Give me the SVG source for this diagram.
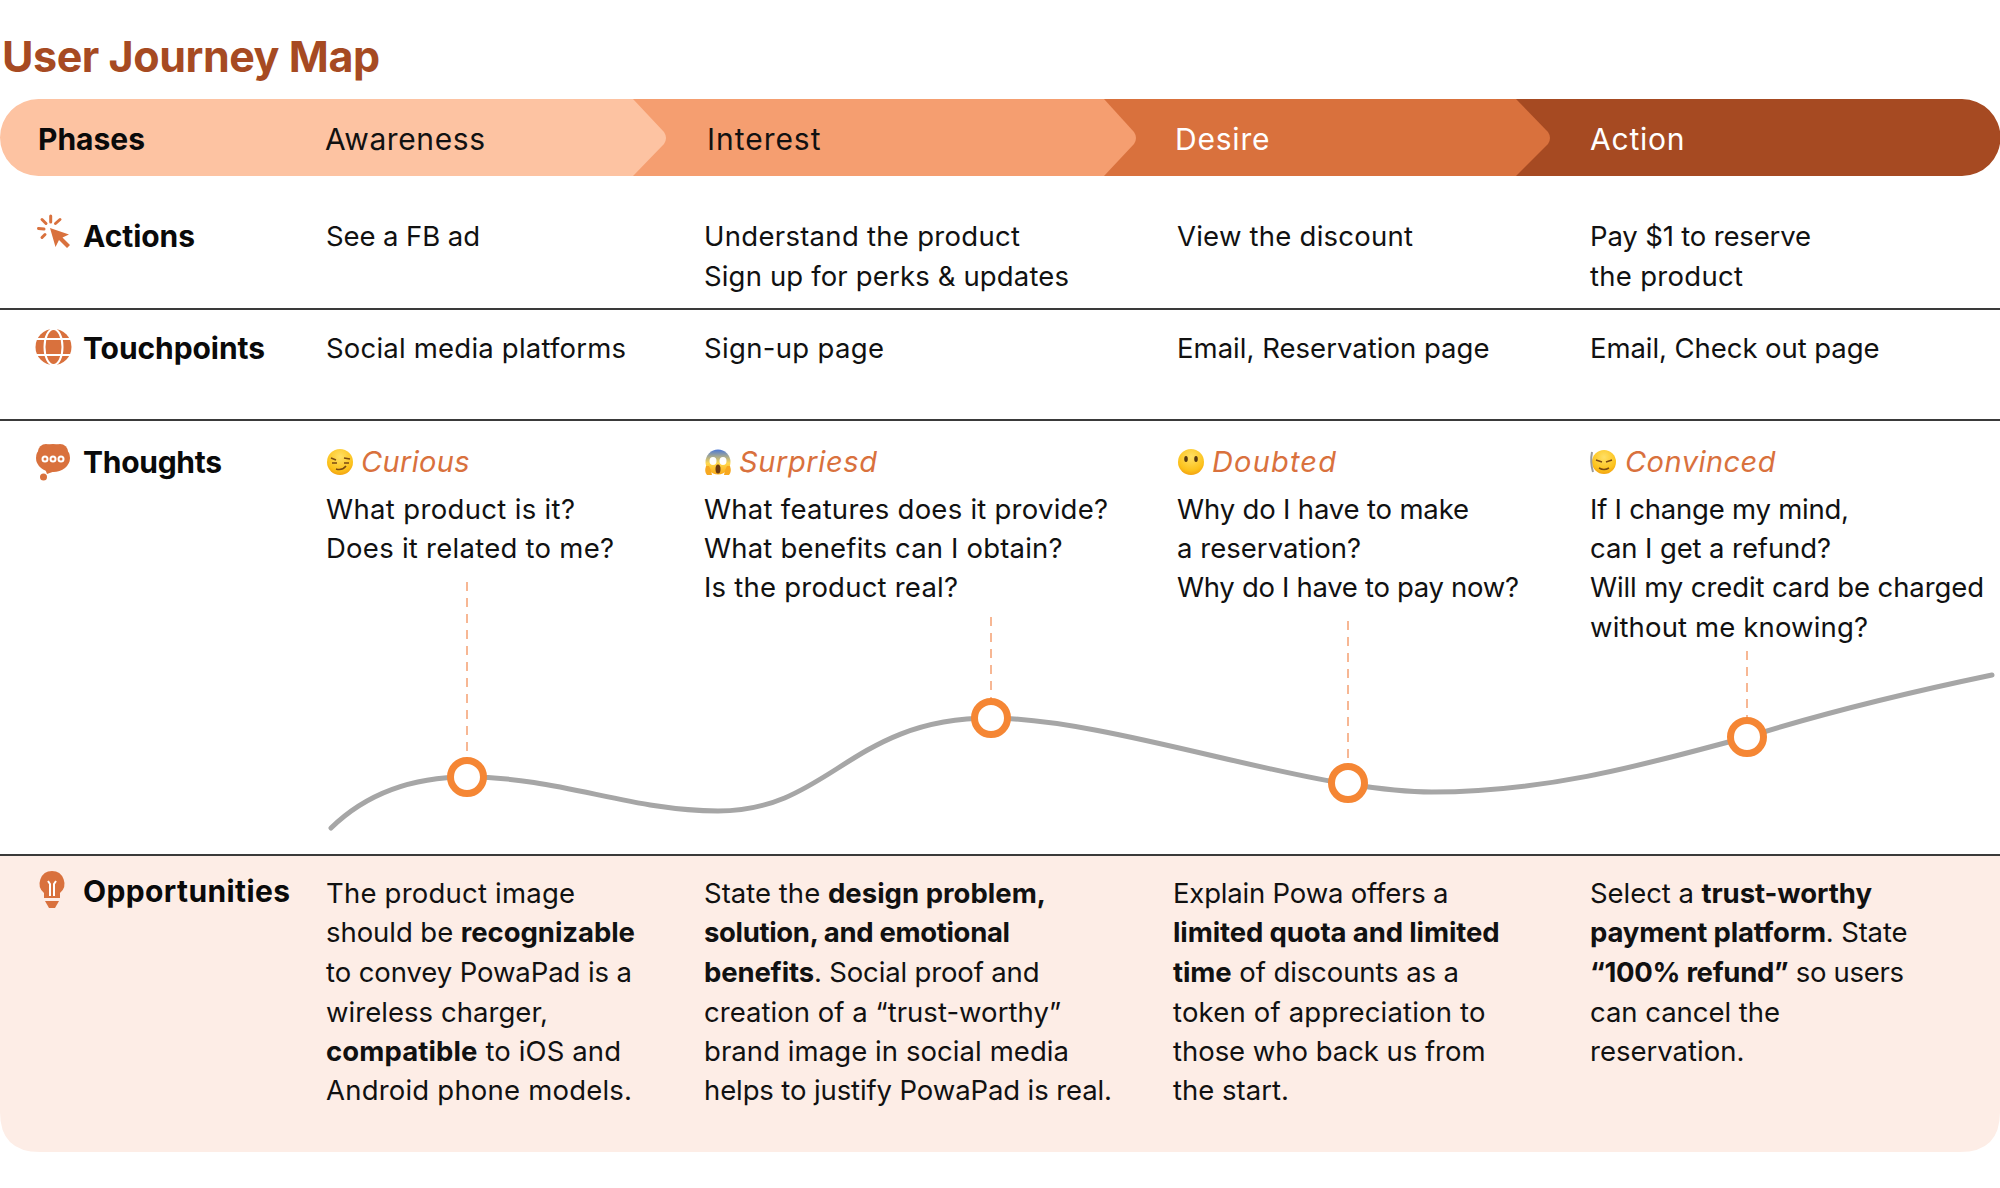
<svg xmlns="http://www.w3.org/2000/svg" width="2000" height="1188" viewBox="0 0 2000 1188">
<style>
text{font-family:"Inter","Liberation Sans",sans-serif;font-size:27.5px;fill:#111}
.h{font-weight:700;font-size:30px;fill:#0a0a0a}
.title{font-weight:700;font-size:43px;fill:#a64a22}
.ph{font-size:30px}
.w{fill:#fff}
.em{font-style:italic;fill:#d9713d;font-size:29px}
.b{font-weight:700}
.rule{stroke:#3a3a3a;stroke-width:2}
.dash{stroke:#f5a67a;stroke-width:1.6;stroke-dasharray:9 7;fill:none}
.pt{fill:#fff;stroke:#f58634;stroke-width:7}
.ic{fill:#d9713d}
.icl{stroke:#d9713d;stroke-width:3;stroke-linecap:round;fill:none}
</style>
<defs>
<radialGradient id="y" cx="50%" cy="30%" r="75%"><stop offset="0" stop-color="#ffe066"/><stop offset=".7" stop-color="#fcc21b"/><stop offset="1" stop-color="#f09a0f"/></radialGradient>
<linearGradient id="s" x1="0" y1="0" x2="0" y2="1"><stop offset="0" stop-color="#4a78d8"/><stop offset=".55" stop-color="#ffd84d"/><stop offset="1" stop-color="#f9a916"/></linearGradient>
</defs>
<rect width="2000" height="1188" fill="#fff"/>
<text class="title" x="2" y="72" textLength="378">User Journey Map</text>

<g id="band">
<path d="M1500 99H1962a38.500 38.500 0 0 1 0 77H1500Z" fill="#a64a22"/>
<path d="M1080 99H1516L1548 132Q1552 138 1548 144L1516 176H1080Z" fill="#d9713d"/>
<path d="M600 99H1104L1134 132Q1138 138 1134 144L1104 176H600Z" fill="#f59e70"/>
<path d="M38.500 99H633L664 132Q668 138 664 144L633 176H38.500a38.500 38.500 0 0 1 0-77Z" fill="#fdc3a2"/>
</g>
<g id="phases">
<text class="h" x="38" y="150" textLength="107">Phases</text>
<text class="ph" x="325" y="150" textLength="160">Awareness</text>
<text class="ph" x="707" y="150" textLength="113.500">Interest</text>
<text class="ph w" x="1175" y="150" textLength="94.500">Desire</text>
<text class="ph w" x="1590" y="150" textLength="94.500">Action</text>
</g>

<rect id="opp-bg" x="0" y="855" width="2000" height="297" fill="#fdede6"/>
<path d="M0 1112V1152H40Q0 1152 0 1112ZM2000 1112V1152H1960Q2000 1152 2000 1112Z" fill="#fff"/>
<line class="rule" x1="0" y1="309" x2="2000" y2="309"/>
<line class="rule" x1="0" y1="420" x2="2000" y2="420"/>
<line class="rule" x1="0" y1="855" x2="2000" y2="855"/>

<g id="actions">
<path class="icl" d="M50.700 216V222M42 219.500L46 223.500M60 219.500L55.500 223.500M38.500 228.500L44 229M42 237.500L45 234.500"/>
<path class="ic" d="M50 228L69 234.500L62.500 237.500L70 245L67 248L59 240L55.500 247Z"/>
<text class="h" x="83" y="247" textLength="112">Actions</text>
<text x="326" y="246" textLength="154">See a FB ad</text>
<text x="704" y="246" textLength="316">Understand the product</text>
<text x="704" y="286" textLength="365">Sign up for perks &amp; updates</text>
<text x="1177" y="246" textLength="236">View the discount</text>
<text x="1590" y="246" textLength="221">Pay $1 to reserve</text>
<text x="1590" y="286" textLength="153">the product</text>
</g>

<g id="touchpoints">
<circle class="ic" cx="53.500" cy="347" r="18"/>
<g fill="none" stroke="#fff" stroke-width="2"><ellipse cx="53.500" cy="347" rx="9" ry="18"/><path d="M35 339H72M35 355H72"/></g>
<text class="h" x="83" y="359" textLength="182">Touchpoints</text>
<text x="326" y="358" textLength="300">Social media platforms</text>
<text x="704" y="358" textLength="180">Sign-up page</text>
<text x="1177" y="358" textLength="312.500">Email, Reservation page</text>
<text x="1590" y="358" textLength="289.500">Email, Check out page</text>
</g>

<g id="thoughts">
<ellipse class="ic" cx="53" cy="458" rx="17" ry="14"/><circle class="ic" cx="46" cy="452" r="8"/><circle class="ic" cx="60" cy="452" r="8"/><path class="ic" d="M44 466L58 470L47 474Z"/>
<circle class="ic" cx="43.500" cy="477" r="3.500"/>
<g fill="#d9713d" stroke="#fff" stroke-width="2"><circle cx="45" cy="459" r="2.500"/><circle cx="53" cy="459" r="2.500"/><circle cx="61" cy="459" r="2.500"/></g>
<text class="h" x="83" y="473" textLength="139">Thoughts</text>

<g id="emoji-curious"><circle cx="340" cy="462" r="13" fill="url(#y)"/><path d="M331 458l5 2M344 458l6 1M332 463h5M344 463h5M336 469q6 2 10-3" fill="none" stroke="#7a4a12" stroke-width="1.500"/></g>
<text class="em" x="361" y="472" textLength="108.500">Curious</text>
<text x="326" y="519" textLength="249">What product is it?</text>
<text x="326" y="558" textLength="288">Does it related to me?</text>

<g id="emoji-surprised"><circle cx="718" cy="462" r="12.500" fill="url(#s)"/><ellipse cx="713" cy="461" rx="3.500" ry="4" fill="#fff"/><ellipse cx="723" cy="461" rx="3.500" ry="4" fill="#fff"/><ellipse cx="718" cy="469" rx="2.500" ry="4.500" fill="#6b3a12"/><path d="M706 466q-2 6 1 9h5q-1-6-3-9ZM730 466q2 6-1 9h-5q1-6 3-9Z" fill="#f7a820"/></g>
<text class="em" x="739" y="472" textLength="138">Surpriesd</text>
<text x="704" y="519" textLength="404">What features does it provide?</text>
<text x="704" y="558" textLength="358.500">What benefits can I obtain?</text>
<text x="704" y="597" textLength="254">Is the product real?</text>

<g id="emoji-doubted"><circle cx="1191" cy="462" r="13" fill="url(#y)"/><ellipse cx="1186" cy="459" rx="1.800" ry="3" fill="#5a3a10"/><ellipse cx="1196" cy="459" rx="1.800" ry="3" fill="#5a3a10"/></g>
<text class="em" x="1212" y="472" textLength="124">Doubted</text>
<text x="1177" y="519" textLength="292">Why do I have to make</text>
<text x="1177" y="558" textLength="184">a reservation?</text>
<text x="1177" y="597" textLength="342">Why do I have to pay now?</text>

<g id="emoji-convinced"><circle cx="1604" cy="462" r="12" fill="url(#y)"/><path d="M1592 452q-2 10 1 20" fill="none" stroke="#9a9a9a" stroke-width="2"/><path d="M1596 460l6 2M1606 462l6-2M1599 468q5 3 10 0" fill="none" stroke="#7a4a12" stroke-width="1.500"/></g>
<text class="em" x="1625" y="472" textLength="150.500">Convinced</text>
<text x="1590" y="519" textLength="259">If I change my mind,</text>
<text x="1590" y="558" textLength="241">can I get a refund?</text>
<text x="1590" y="597" textLength="394">Will my credit card be charged</text>
<text x="1590" y="637" textLength="278">without me knowing?</text>
</g>

<g id="connectors">
<path d="M331 828C370 790 420 777 467 777C560 777 630 811 718 811C830 811 850 718 991 718C1090 718 1250 770 1348 784C1380 789 1410 792 1432 792C1555 792 1660 760 1747 737C1840 708 1920 690 1992 675" fill="none" stroke="#a6a6a6" stroke-width="5" stroke-linecap="round"/>
<line class="dash" x1="467" y1="582" x2="467" y2="760"/>
<line class="dash" x1="991" y1="617" x2="991" y2="701"/>
<line class="dash" x1="1348" y1="621" x2="1348" y2="766"/>
<line class="dash" x1="1747" y1="651" x2="1747" y2="720"/>
<circle class="pt" cx="467" cy="777" r="16.500"/>
<circle class="pt" cx="991" cy="718" r="16.500"/>
<circle class="pt" cx="1348" cy="783" r="16.500"/>
<circle class="pt" cx="1747" cy="737" r="16.500"/>
</g>

<g id="opportunities">
<path class="ic" d="M52 871a12.500 12.500 0 0 1 8 22v5H44v-5a12.500 12.500 0 0 1 8-22Z"/>
<path class="ic" d="M45 901H59L55 908H49Z"/>
<path d="M48 881L50 884V896M56 881L54 884V896" fill="none" stroke="#fff" stroke-width="2"/>
<text class="h" x="83" y="902" textLength="207">Opportunities</text>

<text x="326" y="903" textLength="249">The product image</text>
<text x="326" y="942" textLength="309">should be <tspan class="b">recognizable</tspan></text>
<text x="326" y="982" textLength="306">to convey PowaPad is a</text>
<text x="326" y="1022" textLength="222">wireless charger,</text>
<text x="326" y="1061" textLength="295"><tspan class="b">compatible</tspan> to iOS and</text>
<text x="326" y="1100" textLength="306">Android phone models.</text>

<text x="704" y="903" textLength="342">State the <tspan class="b">design problem,</tspan></text>
<text x="704" y="942" class="b" textLength="306">solution, and emotional</text>
<text x="704" y="982" textLength="335.500"><tspan class="b">benefits</tspan>. Social proof and</text>
<text x="704" y="1022" textLength="357">creation of a “trust-worthy”</text>
<text x="704" y="1061" textLength="365">brand image in social media</text>
<text x="704" y="1100" textLength="408">helps to justify PowaPad is real.</text>

<text x="1173" y="903" textLength="275.500">Explain Powa offers a</text>
<text x="1173" y="942" class="b" textLength="326.500">limited quota and limited</text>
<text x="1173" y="982" textLength="286"><tspan class="b">time</tspan> of discounts as a</text>
<text x="1173" y="1022" textLength="312.500">token of appreciation to</text>
<text x="1173" y="1061" textLength="312.500">those who back us from</text>
<text x="1173" y="1100" textLength="116">the start.</text>

<text x="1590" y="903" textLength="282">Select a <tspan class="b">trust-worthy</tspan></text>
<text x="1590" y="942" textLength="317.500"><tspan class="b">payment platform</tspan>. State</text>
<text x="1590" y="982" textLength="314"><tspan class="b">“100% refund”</tspan> so users</text>
<text x="1590" y="1022" textLength="190">can cancel the</text>
<text x="1590" y="1061">reservation.</text>
</g>
</svg>
